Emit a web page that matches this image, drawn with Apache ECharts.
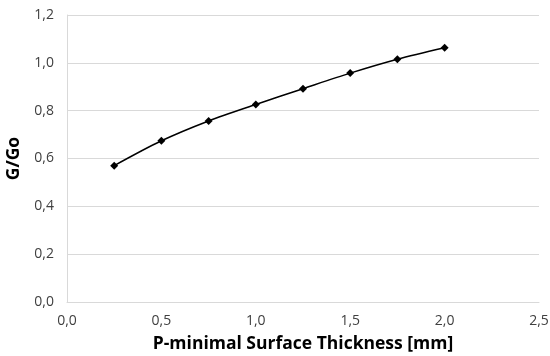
<!DOCTYPE html>
<html><head><meta charset="utf-8">
<script src="https://cdn.jsdelivr.net/npm/echarts@6/dist/echarts.min.js"></script>
<style>html,body{margin:0;padding:0;background:#fff}#c{width:550px;height:356px}</style>
</head><body><div id="c"></div>
<script>
const thickness = [0.25, 0.5, 0.75, 1.0, 1.25, 1.5, 1.75, 2.0];
const ratio = [0.570, 0.674, 0.757, 0.826, 0.892, 0.957, 1.015, 1.063];
const xTitle = 'P-minimal Surface Thickness [mm]';
const yTitle = 'G/Go';
const fmt = v => v.toFixed(1).replace('.', ',');
const chart = echarts.init(document.getElementById('c'));
chart.setOption({
  animation: false,
  grid: {left: 67, right: 11, top: 15, bottom: 54, outerBoundsMode: 'none', containLabel: false},
  xAxis: {
    type: 'value', min: 0, max: 2.5, interval: 0.5,
    name: xTitle, nameLocation: 'middle', nameGap: 33,
    nameTextStyle: {fontFamily: 'Open Sans', fontWeight: 'bold', fontSize: 17.5, color: '#000'},
    axisLine: {show: true, lineStyle: {color: '#d9d9d9'}},
    axisTick: {show: false},
    splitLine: {show: false},
    axisLabel: {formatter: fmt, fontFamily: 'Open Sans', fontSize: 14, color: '#404040', margin: 12}
  },
  yAxis: {
    type: 'value', min: 0, max: 1.2, interval: 0.2,
    name: yTitle, nameLocation: 'middle', nameGap: 43,
    nameTextStyle: {fontFamily: 'Open Sans', fontWeight: 'bold', fontSize: 17.5, color: '#000'},
    axisLine: {show: true, lineStyle: {color: '#d9d9d9'}},
    axisTick: {show: false},
    splitLine: {show: true, lineStyle: {color: '#d9d9d9'}},
    axisLabel: {formatter: fmt, fontFamily: 'Open Sans', fontSize: 14, color: '#404040', margin: 13}
  },
  series: [{
    type: 'line', smooth: 0.3,
    data: thickness.map((x, i) => [x, ratio[i]]),
    symbol: 'diamond', symbolSize: 8,
    lineStyle: {color: '#000', width: 1.5},
    itemStyle: {color: '#000'}
  }]
});
</script></body></html>
